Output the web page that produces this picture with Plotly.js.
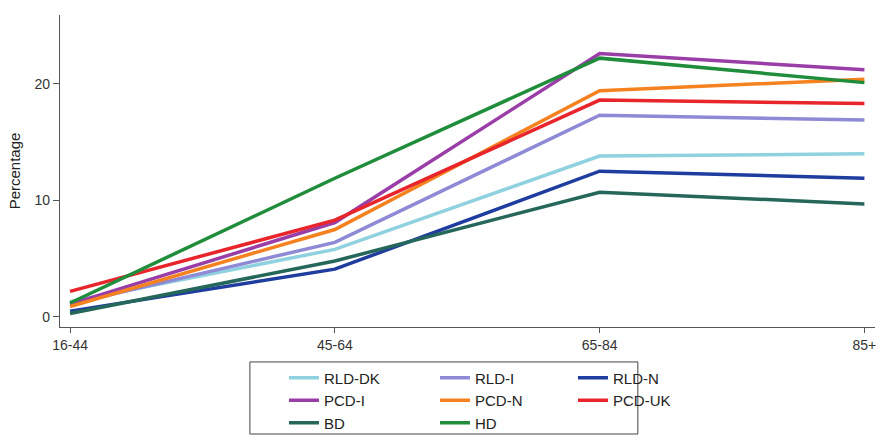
<!DOCTYPE html>
<html>
<head>
<meta charset="utf-8">
<script src="https://cdn.plot.ly/plotly-3.0.1.min.js"></script>
<style>html,body{margin:0;padding:0;background:#fff;}#chart{width:881px;height:437px;}</style>
</head>
<body>
<div id="chart"></div>
<script>
// Categories (age groups)
var ageGroups = ["16-44", "45-64", "65-84", "85+"];

// Series values (percentage)
var rldDK  = [1.3, 5.8, 13.8, 14.0];
var rldI   = [1.1, 6.4, 17.3, 16.9];
var rldN   = [0.5, 4.1, 12.5, 11.9];
var pcdI   = [1.1, 8.1, 22.6, 21.2];
var pcdN   = [0.9, 7.5, 19.4, 20.4];
var pcdUK  = [2.2, 8.3, 18.6, 18.3];
var bd     = [0.3, 4.8, 10.7, 9.7];
var hd     = [1.2, 11.9, 22.2, 20.1];

var seriesNames = ["RLD-DK", "RLD-I", "RLD-N", "PCD-I", "PCD-N", "PCD-UK", "BD", "HD"];
var seriesData  = [rldDK, rldI, rldN, pcdI, pcdN, pcdUK, bd, hd];
var seriesColors = ["#90d1e0", "#8e8ad6", "#1f3d9e", "#9a3ea7", "#f5811f", "#e8252b", "#26675b", "#1f8d3b"];
var seriesLegend = ["legend", "legend2", "legend3", "legend", "legend2", "legend3", "legend", "legend2"];

var yTicks = [0, 10, 20];

var traces = seriesData.map(function (vals, i) {
  return {
    type: "scatter",
    mode: "lines",
    x: ageGroups,
    y: vals,
    name: seriesNames[i],
    legend: seriesLegend[i],
    line: {color: seriesColors[i], width: 3.5},
    hoverinfo: "x+y+name"
  };
});

var legendFont = {family: "Liberation Sans, Arial, sans-serif", size: 15, color: "#222"};
function mkLegend(x) {
  return {
    x: x, y: -0.1106, xref: "paper", yref: "paper",
    xanchor: "left", yanchor: "top",
    orientation: "v", bgcolor: "rgba(0,0,0,0)",
    font: legendFont, tracegroupgap: 0, itemwidth: 30
  };
}

var layout = {
  width: 881, height: 437,
  margin: {l: 60, r: 6, t: 15, b: 110, autoexpand: false},
  paper_bgcolor: "#ffffff",
  plot_bgcolor: "#ffffff",
  font: {family: "Liberation Sans, Arial, sans-serif", size: 12, color: "#333"},
  showlegend: true,
  xaxis: {
    type: "category",
    range: [-0.038, 3.04],
    showgrid: false, zeroline: false,
    showline: true, linecolor: "#555", linewidth: 1.2,
    ticks: "outside", ticklen: 5, tickcolor: "#555",
    tickfont: {size: 14, color: "#333"}
  },
  yaxis: {
    range: [-0.86, 25.9],
    tickvals: yTicks,
    ticktext: yTicks.map(String),
    showgrid: false, zeroline: false,
    showline: true, linecolor: "#555", linewidth: 1.2,
    ticks: "outside", ticklen: 6, tickcolor: "#555",
    tickfont: {size: 14, color: "#333"},
    title: {text: "Percentage", font: {size: 15, color: "#222"}, standoff: 10}
  },
  legend: mkLegend(0.2748),
  legend2: mkLegend(0.4601),
  legend3: mkLegend(0.6294),
  shapes: [{
    type: "rect", xref: "paper", yref: "paper",
    x0: 0.233, x1: 0.709, y0: -0.112, y1: -0.343,
    line: {color: "#444", width: 1}, fillcolor: "rgba(0,0,0,0)"
  }]
};

Plotly.newPlot("chart", traces, layout, {displayModeBar: false, staticPlot: true});
</script>
</body>
</html>
